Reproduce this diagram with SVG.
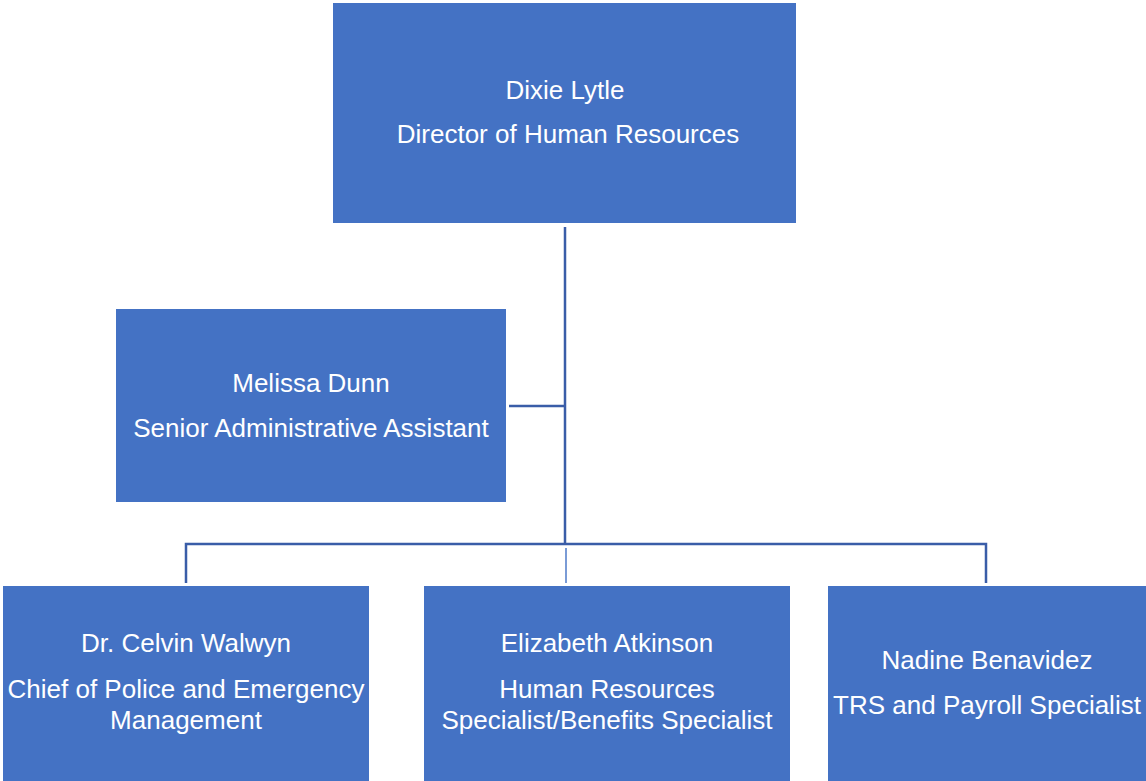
<svg xmlns="http://www.w3.org/2000/svg" width="1146" height="781" viewBox="0 0 1146 781">
<style>
.box{fill:#4472C4;}
.t{font-family:"Liberation Sans",Arial,sans-serif;font-size:26px;fill:#FFFFFF;text-anchor:middle;}
.c{stroke:#3A5DA8;stroke-width:2.5;fill:none;}
.cl{stroke:#7A9BD6;stroke-width:2;fill:none;}
</style>
<rect width="1146" height="781" fill="#FFFFFF"/>
<g id="connectors">
<line class="c" x1="565" y1="227" x2="565" y2="545"/>
<line class="c" x1="509" y1="406" x2="565" y2="406"/>
<polyline class="c" points="186,583 186,544 986,544 986,583"/>
<line class="cl" x1="566" y1="548" x2="566" y2="583"/>
</g>
<g id="dixie">
<rect class="box" x="333" y="3" width="463" height="220"/>
<text class="t" x="565" y="99">Dixie Lytle</text>
<text class="t" x="568" y="143">Director of Human Resources</text>
</g>
<g id="melissa">
<rect class="box" x="116" y="309" width="390" height="193"/>
<text class="t" x="311" y="392">Melissa Dunn</text>
<text class="t" x="311" y="437">Senior Administrative Assistant</text>
</g>
<g id="celvin">
<rect class="box" x="3" y="586" width="366" height="195"/>
<text class="t" x="186" y="652">Dr. Celvin Walwyn</text>
<text class="t" x="186" y="698">Chief of Police and Emergency</text>
<text class="t" x="186" y="729">Management</text>
</g>
<g id="elizabeth">
<rect class="box" x="424" y="586" width="366" height="195"/>
<text class="t" x="607" y="652">Elizabeth Atkinson</text>
<text class="t" x="607" y="698">Human Resources</text>
<text class="t" x="607" y="729">Specialist/Benefits Specialist</text>
</g>
<g id="nadine">
<rect class="box" x="828" y="586" width="318" height="195"/>
<text class="t" x="987" y="669">Nadine Benavidez</text>
<text class="t" x="987" y="714">TRS and Payroll Specialist</text>
</g>
</svg>
